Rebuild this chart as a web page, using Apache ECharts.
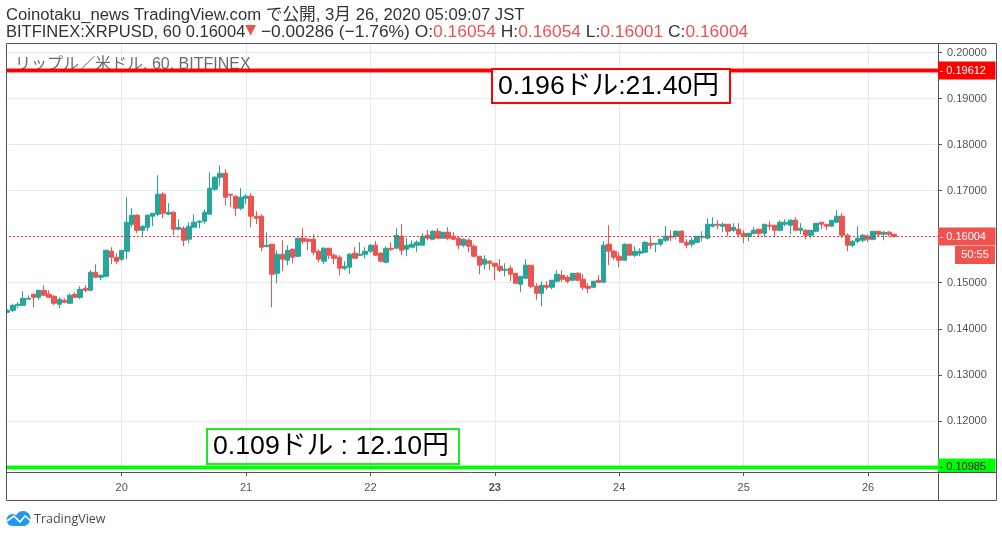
<!DOCTYPE html>
<html><head><meta charset="utf-8">
<style>html,body{margin:0;padding:0;background:#fff}#c{width:1002px;height:537px}</style>
<script src="https://cdn.jsdelivr.net/npm/echarts@6/dist/echarts.min.js"></script>
</head><body><div id="c"></div>
<script>
// prices in 1/100000 USD, hourly candles from 19th 02:00
const opens=[14358,14401,14510,14510,14641,14749,14684,14836,14749,14706,14532,14619,14554,14749,14684,14880,14836,15228,15119,15141,15685,15554,15511,15685,16272,16468,16141,16207,16446,16490,16925,16490,16533,16163,16185,15946,16207,16316,16337,16490,17033,17294,17381,16925,16881,16620,16837,16881,16446,16446,15786,15837,15206,15620,15489,15728,15576,15968,15946,15946,15685,15467,15750,15598,15554,15315,15337,15642,15598,15620,15685,15816,15642,15446,15750,15750,16011,15729,15772,15816,15816,16033,15946,16120,15968,16098,16011,15968,15816,15924,15794,15577,15403,15468,15424,15359,15272,15315,15207,14967,15098,15381,14924,14772,14946,14902,15033,15163,15120,15055,15207,15076,14924,14902,15055,15011,15838,15685,15577,15490,15838,15598,15642,15664,15859,15838,15838,15924,16011,16011,16120,15881,15837,15881,15989,15968,16229,16272,16229,16272,16141,16163,16076,16011,16076,16163,16076,16250,16250,16141,16272,16250,16359,16141,16141,16033,16120,16316,16272,16229,16316,16446,16033,15815,15902,15924,16011,15946,16120,16054,16098,16054];
const closes=[14401,14510,14532,14662,14662,14684,14836,14728,14684,14554,14641,14575,14728,14684,14858,14836,15228,15119,15163,15706,15554,15467,15706,16316,16468,16141,16229,16468,16511,16925,16511,16533,16163,16207,15924,16229,16316,16337,16533,17055,17294,17381,16859,16903,16620,16859,16881,16446,16402,15772,15815,15185,15620,15511,15706,15554,15968,15902,15902,15663,15511,15750,15598,15533,15315,15359,15620,15533,15620,15685,15816,15598,15468,15750,15729,16033,15707,15816,15838,15881,16011,15968,16120,15968,16098,15968,15946,15816,15946,15794,15577,15381,15511,15424,15359,15272,15294,15185,14989,15142,15381,14924,14772,14946,14902,15055,15185,15076,15033,15207,15055,14902,14880,15033,15011,15816,15685,15555,15490,15838,15598,15685,15685,15881,15816,15859,15946,16011,15990,16120,15881,15815,15924,16011,16011,16272,16272,16250,16272,16120,16207,16054,16011,16076,16141,16076,16272,16229,16141,16316,16316,16359,16141,16185,16033,16141,16294,16272,16229,16359,16446,16033,15815,15902,15968,16033,15946,16120,16054,16098,16054,16004];
const lows=[14350,14358,14445,14510,14641,14467,14619,14706,14684,14510,14445,14554,14554,14684,14641,14793,14836,15098,15054,15119,15402,15402,15467,15511,16207,16076,15989,16120,16229,16446,16402,16468,16033,16141,15794,15859,16207,16185,16272,16490,16990,17098,16685,16642,16446,16576,16707,16207,16272,15685,15772,14467,14989,15250,15380,15424,15554,15837,15706,15598,15446,15402,15511,15402,15163,15272,15185,15533,15577,15533,15642,15577,15446,15424,15685,15750,15598,15577,15772,15664,15816,15924,15924,15968,15968,15924,15924,15729,15772,15664,15555,15185,15294,15272,15055,15228,15142,15033,14967,14793,15076,14880,14620,14489,14837,14859,15011,15011,14989,15033,15033,14837,14772,14880,14989,14989,15381,15490,15337,15490,15577,15555,15577,15642,15729,15664,15794,15881,15903,15946,15881,15750,15772,15859,15902,15946,16207,16163,16098,16011,16098,15989,15859,15902,16054,15989,15989,16141,15989,16120,16229,16054,16141,16054,15946,15968,16098,16163,16141,16229,16294,15968,15685,15772,15859,15881,15881,15924,16011,15924,16011,16001];
const highs=[14416,14546,14575,14815,14728,14771,14836,14945,14836,14728,14684,14662,14771,14793,14923,14945,15272,15402,15185,15706,15772,15641,15706,16859,16620,16490,16250,16490,16511,17338,16968,16729,16555,16381,16229,16316,16490,16359,16598,17403,17316,17555,17468,16925,16903,17055,16925,16946,16555,16490,16098,15837,15706,15924,15815,15750,15968,16185,15968,16055,15728,15772,15750,15641,15598,15468,15642,15772,15881,15772,15838,15903,15664,15794,15881,16185,16273,15968,15924,15924,16077,16142,16142,16185,16098,16207,16098,16011,15968,15968,15838,15577,15598,15490,15424,15511,15424,15381,15207,15142,15511,15381,14989,15033,15033,15055,15272,15272,15163,15207,15228,15185,14989,15033,15163,15903,16251,15707,15664,15859,15838,15794,15750,15903,16011,15859,15946,16229,16142,16142,16142,15946,15989,16011,16120,16403,16424,16359,16316,16272,16294,16294,16141,16076,16207,16163,16272,16337,16250,16359,16381,16381,16424,16294,16163,16141,16294,16316,16272,16359,16577,16511,16076,15924,16229,16054,16054,16120,16120,16120,16120,16054];
const slotCount=180;
const dayTicks={22:'20',46:'21',70:'22',94:'{b|23}',118:'24',142:'25',166:'26'};
const yTicks=[0.11,0.12,0.13,0.14,0.15,0.16,0.17,0.18,0.19,0.20];
const yLabels=[0.12,0.13,0.14,0.15,0.17,0.18,0.19,0.20];
const resistance=0.19612, support=0.10985, lastPrice=0.16004;
const note1='0.196ドル:21.40円', note2='0.109ドル : 12.10円';

const categories=Array.from({length:slotCount},(_,i)=>String(i));
const candles=opens.map((o,i)=>[o/1e5,closes[i]/1e5,lows[i]/1e5,highs[i]/1e5]);
const UP='#26a69a',DOWN='#ef5350',AX='#50535e',GRID='#e1ecf2',FONT='"Liberation Sans",Arial,sans-serif';
const CJK='"Liberation Sans","Noto Sans CJK JP",sans-serif';
const isDay=i=>dayTicks[i]!==undefined;
const priceLabel=(bg,fg)=>({show:true,position:'end',distance:0,backgroundColor:bg,color:fg,fontFamily:FONT,fontSize:11,
  width:56,height:18,lineHeight:18,align:'left',padding:[0,0,0,1.5],
  formatter:p=>'- '+p.value.toFixed(5)});
const seg=(size,color)=>({fontFamily:FONT,fontSize:size,color:color,lineHeight:18});
const chart=echarts.init(document.getElementById('c'),null,{renderer:'canvas'});
chart.setOption({
  animation:false,
  title:[
    {left:6,top:6,padding:0,text:'Coinotaku_news TradingView.com で公開, 3月 26, 2020 05:09:07 JST',
     textStyle:{fontFamily:CJK,fontSize:16.7,fontWeight:'normal',color:'#333',lineHeight:18}},
    {left:6,top:23,padding:0,
     text:'{a|BITFINEX:XRPUSD, 60 0.16004}{t|▼}{c| −0.00286 (−1.76%) O:}{r|0.16054}{c| H:}{r|0.16054}{c| L:}{r|0.16001}{c| C:}{r|0.16004}',
     textStyle:{fontFamily:FONT,fontSize:17,fontWeight:'normal',color:'#333',lineHeight:18,
       rich:{a:seg(16.5,'#333'),c:seg(17.4,'#333'),r:seg(17.4,DOWN),t:{color:DOWN,fontSize:14,verticalAlign:'top',fontFamily:'"DejaVu Sans"'}}}},
    {left:15,top:56,padding:0,z:1,text:'リップル／米ドル, 60, BITFINEX',
     textStyle:{fontFamily:CJK,fontSize:16,fontWeight:'normal',color:'#666b75',lineHeight:18}},
    {left:492,top:69,text:note1,padding:[3,11,1,6],backgroundColor:'#fff',borderColor:'#f00',borderWidth:2,
     textStyle:{fontFamily:CJK,fontSize:26.7,fontWeight:'normal',color:'#000',lineHeight:30}},
    {left:207,top:429,text:note2,padding:[3,10,2,6],borderColor:'#22e822',borderWidth:2,
     textStyle:{fontFamily:CJK,fontSize:26.7,fontWeight:'normal',color:'#000',lineHeight:30}}
  ],
  grid:{left:5,top:44,width:933,height:428,show:false},
  xAxis:{type:'category',data:categories,boundaryGap:true,
    axisLine:{show:true,lineStyle:{color:AX}},
    axisTick:{show:true,length:4,alignWithLabel:true,interval:i=>isDay(i),lineStyle:{color:AX}},
    axisLabel:{interval:i=>isDay(i),formatter:v=>dayTicks[v]||'',margin:10,color:AX,fontFamily:FONT,fontSize:11,
       rich:{b:{fontWeight:'bold',fontFamily:FONT,fontSize:11,color:AX}}},
    splitLine:{show:true,alignWithLabel:true,interval:i=>isDay(i),lineStyle:{color:GRID,width:1}}},
  yAxis:{type:'value',position:'right',min:0.10886,max:0.2019,
    axisLine:{show:true,lineStyle:{color:AX}},
    axisTick:{show:true,length:4,lineStyle:{color:AX},customValues:yTicks},
    axisLabel:{margin:9,color:AX,fontFamily:FONT,fontSize:11,customValues:yLabels,
      formatter:v=>Number(v).toFixed(5)},
    splitLine:{show:true,lineStyle:{color:GRID,width:1}}},
  series:[{type:'candlestick',data:candles,barWidth:5,z:2,
    itemStyle:{color:UP,color0:DOWN,borderColor:UP,borderColor0:DOWN,borderWidth:1},
    markLine:{silent:true,symbol:'none',animation:false,precision:5,data:[
      {yAxis:lastPrice,lineStyle:{color:'#f33',width:1,type:[2,2]},label:priceLabel(DOWN,'#fff')},
      {yAxis:resistance,lineStyle:{color:'rgba(255,0,0,.45)',width:5,type:'solid'},label:{show:false}},
      {yAxis:resistance,lineStyle:{color:'#f00',width:3,type:'solid'},label:priceLabel('#f00','#fff')},
      {yAxis:support,lineStyle:{color:'rgba(0,255,0,.45)',width:5,type:'solid'},label:{show:false}},
      {yAxis:support,lineStyle:{color:'#0f0',width:3,type:'solid'},label:priceLabel('#0f0','#131722')}
    ]}}],
  graphic:{elements:[
    {type:'rect',z:50,shape:{x:0,y:43,width:6,height:458},style:{fill:'#fff'}},
    {type:'rect',z:50,shape:{x:937,y:473,width:59,height:27},style:{fill:'#fff'}},
    {type:'rect',z:51,shape:{x:6.5,y:43.5,width:990,height:457},style:{fill:'none',stroke:AX,lineWidth:1}},
    {type:'line',z:51,shape:{x1:938.5,y1:472,x2:938.5,y2:500},style:{stroke:AX,lineWidth:1}},
    {type:'line',z:51,shape:{x1:938,y1:472.5,x2:996,y2:472.5},style:{stroke:AX,lineWidth:1}},
    {type:'rect',z:52,shape:{x:955,y:246,width:40,height:18},style:{fill:DOWN}},
    {type:'text',z:53,x:975,y:255,style:{text:'50:55',fill:'#fff',font:'11px '+FONT,align:'center',verticalAlign:'middle'}},
    {type:'circle',z:52,shape:{cx:12.5,cy:520,r:6},style:{fill:'#2196f3'}},
    {type:'circle',z:52,shape:{cx:23,cy:518.5,r:7.5},style:{fill:'#2196f3'}},
    {type:'rect',z:52,shape:{x:12,y:520,width:13,height:6},style:{fill:'#2196f3'}},
    {type:'polyline',z:53,shape:{points:[[7,521],[14,516],[20,522],[25,516],[31,521]]},style:{fill:'none',stroke:'#fff',lineWidth:1.6}},
    {type:'text',z:53,x:34,y:519,style:{text:'TradingView',fill:'#4a4a4a',font:'12.5px "Open Sans"',verticalAlign:'middle'}}
  ]}
});
</script></body></html>
